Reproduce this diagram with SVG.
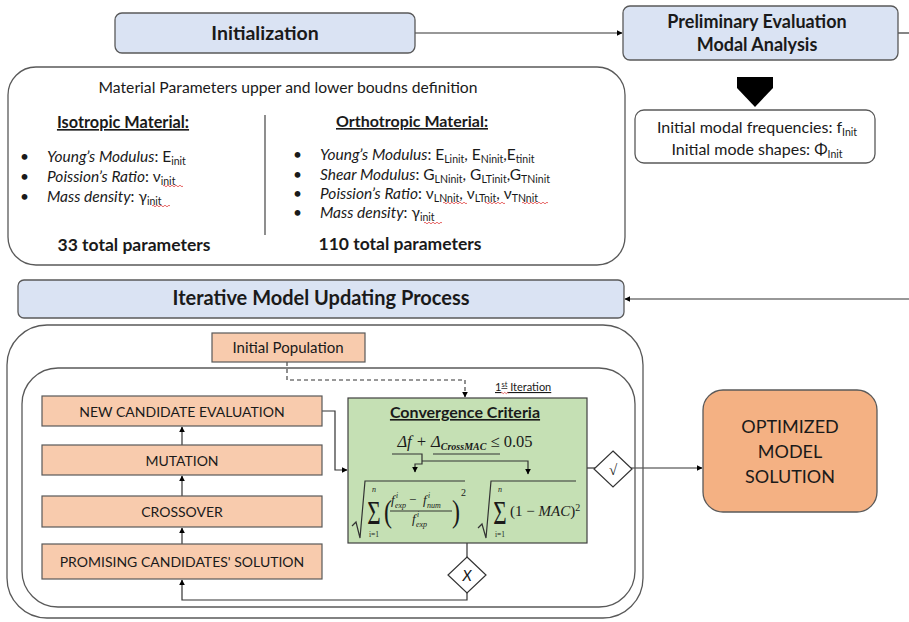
<svg xmlns="http://www.w3.org/2000/svg" width="909" height="622" viewBox="0 0 909 622">
<defs>
<marker id="ah" viewBox="0 0 10 10" refX="9" refY="5" markerWidth="6" markerHeight="6" orient="auto" markerUnits="userSpaceOnUse">
<path d="M0,0 L10,5 L0,10 z" fill="#000"/>
</marker>
<style>
text{font-family:Lato,"Liberation Sans",sans-serif;fill:#1a1a1a}
.b{font-weight:bold}
.it{font-style:italic}
.s{font-family:"Liberation Serif","DejaVu Serif",serif}
.m{font-family:"Liberation Serif","DejaVu Serif",serif;font-style:italic}
.blue{fill:#dae3f3;stroke:#595959;stroke-width:1.3}
.sal{fill:#f8cbad;stroke:#595959;stroke-width:1.2}
.frame{fill:#fff;stroke:#595959;stroke-width:1.3}
.frame2{fill:none;stroke:#595959;stroke-width:1.3}
.ln{fill:none;stroke:#333;stroke-width:1.2}
.dash{fill:none;stroke:#333;stroke-width:1.1;stroke-dasharray:4 3}
.sq{fill:none;stroke:#e04040;stroke-width:0.8}
.dia{fill:#fff;stroke:#333;stroke-width:1.2}
</style>
</defs>

<g id="connectors">
<path class="ln" d="M415,33 H622" marker-end="url(#ah)"/>
<path class="ln" d="M898,33 H909"/>
<path class="ln" d="M909,299 H625" marker-end="url(#ah)"/>
<path class="ln" d="M182,445 V427" marker-end="url(#ah)"/>
<path class="ln" d="M182,496 V476" marker-end="url(#ah)"/>
<path class="ln" d="M182,544 V528" marker-end="url(#ah)"/>
<path class="ln" d="M322,411 H335 V470 H347" marker-end="url(#ah)"/>
<path class="dash" d="M287,362 V380 H465 V397" marker-end="url(#ah)"/>
<path class="ln" d="M467,543 V557"/>
<path class="ln" d="M467,593 V600 H182 V580" marker-end="url(#ah)"/>
<path class="ln" d="M587,468 H595"/>
<path class="ln" d="M631,468 H702" marker-end="url(#ah)"/>
</g>

<g id="initialization">
<rect class="blue" x="115" y="13" width="300" height="40" rx="7"/>
<text class="b" x="265" y="40" font-size="19.5" text-anchor="middle">Initialization</text>
</g>

<g id="preliminary">
<rect class="blue" x="623" y="6" width="275" height="54" rx="7"/>
<text class="b" x="757" y="28" font-size="18" text-anchor="middle">Preliminary Evaluation</text>
<text class="b" x="757" y="51" font-size="18" text-anchor="middle">Modal Analysis</text>
</g>

<g id="big-arrow">
<path d="M737,77 H773 V88 L755,107 L737,88 z" fill="#000"/>
</g>

<g id="modal-results">
<rect class="frame" x="635" y="110" width="240" height="53" rx="9"/>
<text x="757" y="133" font-size="16" text-anchor="middle">Initial modal frequencies: f<tspan dy="3" font-size="10.5">Init</tspan></text>
<text x="757" y="155" font-size="16" text-anchor="middle">Initial mode shapes: Φ<tspan dy="3" font-size="10.5">Init</tspan></text>
</g>

<g id="material-parameters">
<rect class="frame" x="8" y="67" width="617" height="198" rx="28"/>
<text x="288" y="93" font-size="15.7" text-anchor="middle">Material Parameters upper and lower boudns definition</text>
<line x1="265" y1="115" x2="265" y2="235" stroke="#444" stroke-width="1.2"/>
<text class="b" x="123" y="128" font-size="16.3" text-anchor="middle" text-decoration="underline">Isotropic Material:</text>
<g font-size="15.5">
<text x="20" y="162">•</text>
<text x="20" y="182">•</text>
<text x="20" y="202">•</text>
<text x="47" y="162"><tspan class="it">Young’s Modulus</tspan>: E<tspan dy="3" font-size="10.5">init</tspan></text>
<text x="47" y="182"><tspan class="it">Poission’s Ratio</tspan>: ν<tspan dy="3" font-size="10.5">init</tspan></text>
<text x="47" y="202"><tspan class="it">Mass density</tspan>: γ<tspan dy="3" font-size="10.5">init</tspan></text>
</g>
<text class="b" x="134" y="251" font-size="17.5" text-anchor="middle">33 total parameters</text>
<text class="b" x="412" y="127" font-size="16" text-anchor="middle" text-decoration="underline">Orthotropic Material:</text>
<g font-size="15.5">
<text x="293" y="160">•</text>
<text x="293" y="180">•</text>
<text x="293" y="199">•</text>
<text x="293" y="218">•</text>
<text x="320" y="160"><tspan class="it">Young’s Modulus</tspan>: E<tspan dy="3" font-size="10.5">Linit</tspan><tspan dy="-3">, E</tspan><tspan dy="3" font-size="10.5">Ninit</tspan><tspan dy="-3">,E</tspan><tspan dy="3" font-size="10.5">tinit</tspan></text>
<text x="320" y="180"><tspan class="it">Shear Modulus</tspan>: G<tspan dy="3" font-size="10.5">LNinit</tspan><tspan dy="-3">, G</tspan><tspan dy="3" font-size="10.5">LTinit</tspan><tspan dy="-3">,G</tspan><tspan dy="3" font-size="10.5">TNinit</tspan></text>
<text x="320" y="199"><tspan class="it">Poission’s Ratio</tspan>: ν<tspan dy="3" font-size="10.5">LNnit</tspan><tspan dy="-3">, ν</tspan><tspan dy="3" font-size="10.5">LTnit</tspan><tspan dy="-3">, ν</tspan><tspan dy="3" font-size="10.5">TNnit</tspan></text>
<text x="320" y="218"><tspan class="it">Mass density</tspan>: γ<tspan dy="3" font-size="10.5">init</tspan></text>
</g>
<text class="b" x="400" y="250" font-size="17.5" text-anchor="middle">110 total parameters</text>
<path class="sq" d="M163,186 q1,-1.6 2,0 t2,0 t2,0 t2,0 t2,0 t2,0 t2,0 t2,0 t2,0 t2,0"/>
<path class="sq" d="M152,206 q1,-1.6 2,0 t2,0 t2,0 t2,0 t2,0 t2,0 t2,0 t2,0 t2,0"/>
<path class="sq" d="M443,203 q1,-1.6 2,0 t2,0 t2,0 t2,0 t2,0 t2,0 t2,0 t2,0 t2,0 t2,0 t2,0 t2,0"/>
<path class="sq" d="M485,203 q1,-1.6 2,0 t2,0 t2,0 t2,0 t2,0 t2,0 t2,0 t2,0 t2,0 t2,0"/>
<path class="sq" d="M522,203 q1,-1.6 2,0 t2,0 t2,0 t2,0 t2,0 t2,0 t2,0 t2,0 t2,0 t2,0 t2,0 t2,0 t2,0"/>
<path class="sq" d="M424,223 q1,-1.6 2,0 t2,0 t2,0 t2,0 t2,0 t2,0 t2,0 t2,0 t2,0"/>
</g>

<g id="iterative-process">
<rect class="blue" x="18" y="280" width="606" height="38" rx="6"/>
<text class="b" x="321" y="305" font-size="20" text-anchor="middle">Iterative Model Updating Process</text>
</g>

<g id="outer-loop">
<rect class="frame2" x="7" y="325" width="636" height="293" rx="40"/>
<rect class="frame2" x="22" y="368" width="613" height="239" rx="36"/>
</g>

<g id="initial-population">
<rect class="sal" x="212" y="333" width="153" height="29"/>
<text x="288" y="353" font-size="15" text-anchor="middle">Initial Population</text>
</g>

<g id="new-candidate">
<rect class="sal" x="42" y="396" width="280" height="30"/>
<text x="182" y="417" font-size="14" text-anchor="middle">NEW CANDIDATE EVALUATION</text>
</g>
<g id="mutation">
<rect class="sal" x="42" y="445" width="280" height="30"/>
<text x="182" y="466" font-size="14" text-anchor="middle">MUTATION</text>
</g>
<g id="crossover">
<rect class="sal" x="42" y="496" width="280" height="31"/>
<text x="182" y="517" font-size="14" text-anchor="middle">CROSSOVER</text>
</g>
<g id="promising">
<rect class="sal" x="42" y="544" width="280" height="35"/>
<text x="182" y="567" font-size="14" text-anchor="middle">PROMISING CANDIDATES' SOLUTION</text>
</g>

<g id="iteration-label">
<text x="495" y="391" font-size="11" text-decoration="underline">1<tspan dy="-4" font-size="7.5">st</tspan><tspan dy="4"> Iteration</tspan></text>
<path class="sq" d="M501,393 q0.75,-1.2 1.5,0 t1.5,0 t1.5,0 t1.5,0 t1.5,0"/>
</g>

<g id="convergence">
<rect x="348" y="398" width="239" height="145" fill="#c5e0b4" stroke="#404040" stroke-width="1.2"/>
<text class="b" x="465" y="418" font-size="16" text-anchor="middle" text-decoration="underline">Convergence Criteria</text>
<text class="m" x="465" y="447" font-size="16.5" text-anchor="middle">Δf + Δ<tspan dy="3" font-size="10" font-weight="bold">CrossMAC</tspan><tspan dy="-3" font-style="normal"> ≤ 0.05</tspan></text>
<path class="ln" d="M392,454 H422 V464 H415 V472" marker-end="url(#ah)"/>
<path class="ln" d="M433,454 H500"/>
<path class="ln" d="M422,461 H528 V474" marker-end="url(#ah)"/>
<path class="ln" d="M352,526 L356,522 L360,538 L365,481 H465"/>
<text class="s" x="374" y="524" font-size="22" text-anchor="middle" transform="translate(374 524) scale(1.05 1.5) translate(-374 -524)">Σ</text>
<text class="m" x="374" y="492" font-size="8" text-anchor="middle">n</text>
<text class="s" x="374" y="537" font-size="7.5" text-anchor="middle">i=1</text>
<text class="s" x="388" y="522" font-size="32" text-anchor="middle" transform="translate(388 516) scale(0.75 1) translate(-388 -516)">(</text>
<text class="m" x="391" y="504" font-size="13">f</text>
<text class="m" x="396" y="498" font-size="7.5">i</text>
<text class="m" x="395" y="508" font-size="8">exp</text>
<text class="s" x="409" y="504" font-size="13">−</text>
<text class="m" x="423" y="504" font-size="13">f</text>
<text class="m" x="428" y="498" font-size="7.5">i</text>
<text class="m" x="427" y="508" font-size="8">num</text>
<line x1="390" y1="511" x2="452" y2="511" stroke="#222" stroke-width="0.9"/>
<text class="m" x="412" y="523" font-size="13">f</text>
<text class="m" x="417" y="517" font-size="7.5">i</text>
<text class="m" x="416" y="527" font-size="8">exp</text>
<text class="s" x="456" y="522" font-size="32" text-anchor="middle" transform="translate(456 516) scale(0.75 1) translate(-456 -516)">)</text>
<text class="s" x="461" y="496" font-size="10">2</text>
<path class="ln" d="M478,528 L482,524 L486,538 L491,481 H576"/>
<text class="s" x="500" y="524" font-size="22" text-anchor="middle" transform="translate(500 524) scale(1.05 1.5) translate(-500 -524)">Σ</text>
<text class="m" x="500" y="492" font-size="8" text-anchor="middle">n</text>
<text class="s" x="500" y="537" font-size="7.5" text-anchor="middle">i=1</text>
<text class="s" x="510" y="516" font-size="15">(1 − <tspan font-style="italic">MAC</tspan>)<tspan dy="-5" font-size="10">2</tspan></text>
</g>

<g id="check-decision">
<path class="dia" d="M613,451 L632,469 L613,487 L594,469 z"/>
<text class="m" x="613" y="475" font-size="15" text-anchor="middle">√</text>
</g>

<g id="x-decision">
<path class="dia" d="M467,557 L486,575 L467,593 L448,575 z"/>
<text class="it" x="467" y="581" font-size="15" text-anchor="middle">X</text>
</g>

<g id="optimized">
<rect x="703" y="390" width="174" height="122" rx="20" fill="#f4b183" stroke="#595959" stroke-width="1.3"/>
<text x="790" y="433" font-size="18" text-anchor="middle">OPTIMIZED</text>
<text x="790" y="458" font-size="18" text-anchor="middle">MODEL</text>
<text x="790" y="483" font-size="18" text-anchor="middle">SOLUTION</text>
</g>
</svg>
